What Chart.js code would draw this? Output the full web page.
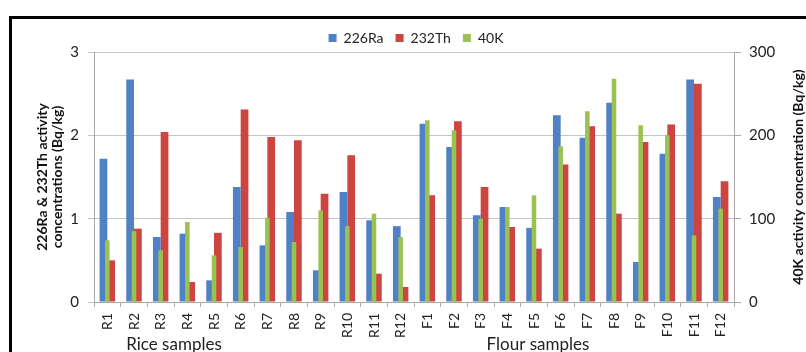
<!DOCTYPE html>
<html>
<head>
<meta charset="utf-8">
<script src="https://cdn.jsdelivr.net/npm/chart.js@4.4.0/dist/chart.umd.min.js"></script>
<style>
  html, body { margin: 0; padding: 0; background: #fff; }
  #wrap { position: relative; width: 806px; height: 352px; overflow: hidden; }
  #chart { position: absolute; left: 0; top: 0; }
  #frame { position: absolute; left: 9px; top: 16px; width: 830px; height: 370px;
           border: 3px solid #000; box-sizing: border-box; pointer-events: none; }
</style>
</head>
<body>
<div id="wrap">
  <canvas id="chart" width="806" height="352"></canvas>
  <div id="frame"></div>
</div>
<script>
// sample names (rice R1-R12, flour F1-F12)
const categories = ['R1','R2','R3','R4','R5','R6','R7','R8','R9','R10','R11','R12',
                    'F1','F2','F3','F4','F5','F6','F7','F8','F9','F10','F11','F12'];

// activity concentrations
const ra226 = [1.72, 2.67, 0.78, 0.82, 0.26, 1.38, 0.68, 1.08, 0.38, 1.32, 0.98, 0.91,
               2.14, 1.86, 1.04, 1.14, 0.89, 2.24, 1.97, 2.39, 0.48, 1.78, 2.67, 1.26];
const th232 = [0.50, 0.88, 2.04, 0.24, 0.83, 2.31, 1.98, 1.94, 1.30, 1.76, 0.34, 0.18,
               1.28, 2.17, 1.38, 0.90, 0.64, 1.65, 2.11, 1.06, 1.92, 2.13, 2.62, 1.45];
const k40   = [74, 85, 62, 96, 56, 66, 101, 72, 110, 91, 106, 78,
               218, 206, 100, 114, 128, 187, 229, 268, 212, 200, 80, 112];

const leftTitle  = ['226Ra & 232Th activity', 'concentrations (Bq/kg)'];
const rightTitle = '40K activity concentration (Bq/kg)';
const groupNames = ['Rice samples', 'Flour samples'];

Chart.defaults.font.family = 'Lato, "DejaVu Sans", sans-serif';
Chart.defaults.color = '#333';

// axis titles + group captions, drawn by hand (right title reads bottom-to-top)
const extraText = {
  id: 'extraText',
  afterLayout(chart) {
    chart.legend.top += 3;
    chart.legend.bottom += 3;
  },
  afterDraw(chart) {
    const { ctx, chartArea, scales } = chart;
    const midY = (chartArea.top + chartArea.bottom) / 2;
    ctx.save();
    ctx.fillStyle = '#111';
    ctx.textAlign = 'center';
    ctx.textBaseline = 'middle';
    ctx.font = 'bold 14px Lato';
    [42, 57].forEach((x, i) => {
      ctx.save();
      ctx.translate(x, midY);
      ctx.rotate(-Math.PI / 2);
      ctx.fillText(leftTitle[i], 0, 0);
      ctx.restore();
    });
    ctx.save();
    ctx.translate(798, midY);
    ctx.rotate(-Math.PI / 2);
    ctx.fillText(rightTitle, 0, 0);
    ctx.restore();

    ctx.font = '17px Lato';
    ctx.fillStyle = '#222';
    ctx.fillText(groupNames[0], scales.x.getPixelForValue(2.5), 345);
    ctx.fillText(groupNames[1], scales.x.getPixelForValue(16.15), 345);
    ctx.restore();
  }
};

new Chart(document.getElementById('chart'), {
  type: 'bar',
  data: {
    labels: categories,
    datasets: [
      { label: '226Ra', data: ra226, backgroundColor: '#4f81c6', yAxisID: 'y', order: 1,
        categoryPercentage: 0.58, barPercentage: 1 },
      { label: '232Th', data: th232, backgroundColor: '#cc4541', yAxisID: 'y', order: 1,
        categoryPercentage: 0.58, barPercentage: 1 },
      // secondary axis series sits centred over the pair, like Excel does
      { label: '40K', data: k40, backgroundColor: '#9bc153', yAxisID: 'y2', order: 0,
        grouped: false, categoryPercentage: 1, barPercentage: 0.17 }
    ]
  },
  options: {
    responsive: false,
    animation: false,
    layout: { padding: { top: 16, left: 26, right: 0, bottom: 0 } },
    plugins: {
      legend: {
        position: 'top',
        labels: {
          boxWidth: 8, boxHeight: 8, padding: 12,
          font: { size: 14 }, color: '#222',
          sort: (a, b) => a.datasetIndex - b.datasetIndex
        }
      },
      tooltip: { enabled: false }
    },
    scales: {
      x: {
        offset: true,
        grid: { offset: true, drawOnChartArea: false, tickLength: 5, color: '#b0b0b0' },
        border: { color: '#a8a8a8' },
        ticks: { minRotation: 90, maxRotation: 90, autoSkip: false, padding: 6,
                 font: { size: 14 }, color: '#222' },
        afterFit: s => { s.height = 50; }
      },
      y: {
        position: 'left', min: 0, max: 3,
        ticks: { stepSize: 1, padding: 9, font: { size: 15 }, color: '#222' },
        grid: { color: '#c4c4c4', tickLength: 6 },
        border: { color: '#a8a8a8' },
        afterFit: s => { s.width = 68; }
      },
      y2: {
        position: 'right', min: 0, max: 300,
        ticks: { stepSize: 100, padding: 8, font: { size: 15 }, color: '#222' },
        grid: { drawOnChartArea: false, tickLength: 7, color: '#a8a8a8' },
        border: { color: '#a8a8a8' },
        afterFit: s => { s.width = 72; }
      }
    }
  },
  plugins: [extraText]
});
</script>
</body>
</html>
